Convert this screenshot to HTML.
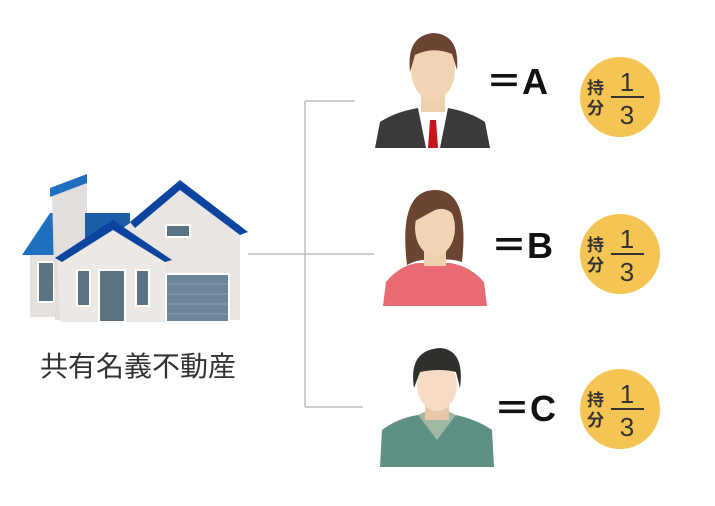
<!DOCTYPE html>
<html><head><meta charset="utf-8"><style>
html,body{margin:0;padding:0;background:#fff;}
svg{display:block;}
</style></head><body>
<svg width="715" height="506" viewBox="0 0 715 506" xmlns="http://www.w3.org/2000/svg">
<g stroke="#bdbdbd" stroke-width="1.5" fill="none">
<line x1="305" y1="101" x2="355" y2="101"/>
<line x1="305" y1="101" x2="305" y2="407"/>
<line x1="248" y1="254" x2="374" y2="254"/>
<line x1="305" y1="407" x2="363" y2="407"/>
</g>
<g>
<polygon points="22,255 50,213 110,213 110,255" fill="#1f6fc0"/>
<rect x="30" y="255" width="30" height="62" fill="#e4e1df"/>
<rect x="38" y="262" width="16" height="40" fill="#5b7383" stroke="#fff" stroke-width="2"/>
<polygon points="52,190 87,177 87,320 55,320" fill="#e1dedc"/>
<polygon points="50,188 87,174 87,183 50,197" fill="#1f6fc0"/>
<polygon points="85,213 130,213 130,250 85,250" fill="#1a5fa8"/>
<polygon points="180,188 240,232 240,320 120,320 120,230" fill="#e8e5e3"/>
<polygon points="130,222 180,180 248,232 240,235 180,190 135,228" fill="#0d44a0"/>
<rect x="166" y="225" width="24" height="12" fill="#5b7383" stroke="#fff" stroke-width="2"/>
<polygon points="57,258 113,222 166,260 166,322 60,322" fill="#ebe8e6"/>
<polygon points="55,258 113,220 172,260 165,262 113,230 62,262" fill="#0d44a0"/>
<rect x="77" y="270" width="13" height="36" fill="#5b7383" stroke="#fff" stroke-width="2"/>
<rect x="99" y="270" width="26" height="52" fill="#5b7383" stroke="#fff" stroke-width="2"/>
<rect x="136" y="270" width="13" height="36" fill="#5b7383" stroke="#fff" stroke-width="2"/>
<rect x="166" y="274" width="63" height="48" fill="#6c8597" stroke="#fff" stroke-width="2"/>
<g stroke="#8aa0ae" stroke-width="1"><line x1="167" y1="284" x2="228" y2="284"/><line x1="167" y1="294" x2="228" y2="294"/><line x1="167" y1="304" x2="228" y2="304"/><line x1="167" y1="314" x2="228" y2="314"/></g>
</g>
<text x="138" y="376" text-anchor="middle" font-family="'Liberation Sans','Noto Sans CJK JP',sans-serif" font-size="28" fill="#333">共有名義不動産</text>
<g>
<path d="M375,148 L380,122 Q395,112 418,108 L448,108 Q470,112 485,122 L490,148 Z" fill="#3a3a3a"/>
<polygon points="418,108 448,108 440,148 426,148" fill="#fff"/>
<polygon points="430,120 436,120 438,148 428,148" fill="#c4161c"/>
<rect x="421" y="90" width="24" height="22" fill="#efcfae"/>
<ellipse cx="433" cy="70" rx="22" ry="30" fill="#f2d4b4"/>
<path d="M410,72 Q406,36 433,33 Q460,34 457,70 L452,54 Q433,46 415,55 Z" fill="#6b4432"/>
</g>
<g>
<path d="M383,306 L386,282 Q400,265 418,263 L450,263 Q470,266 484,282 L487,306 Z" fill="#e86b74"/>
<path d="M407,265 Q398,190 435,190 Q470,190 462,262 Q450,258 435,260 Q420,258 407,265 Z" fill="#6b4432"/>
<rect x="424" y="240" width="22" height="26" fill="#efcfae"/>
<ellipse cx="435" cy="228" rx="20" ry="28" fill="#f2d4b4"/>
<path d="M413,222 Q418,200 440,198 Q455,205 458,222 Q450,205 435,210 Z" fill="#6b4432"/>
</g>
<g>
<path d="M380,467 L382,430 Q398,418 418,415 L456,415 Q478,420 492,430 L494,467 Z" fill="#5e9183"/>
<polygon points="418,415 437,440 456,415 450,412 424,412" fill="#9eb8a3"/>
<rect x="425" y="400" width="24" height="20" fill="#e8c6a8"/>
<ellipse cx="437" cy="385" rx="20" ry="26" fill="#f6dcc6"/>
<path d="M414,388 Q408,350 440,348 Q465,350 460,388 L456,372 Q440,368 420,372 Z" fill="#2e302b"/>
</g>
<g font-family="'Liberation Sans','Noto Sans CJK JP',sans-serif" font-weight="bold" font-size="36" fill="#111">
<text x="486" y="94">＝A</text>
<text x="491" y="258">＝B</text>
<text x="494" y="421">＝C</text>
</g>
<g font-family="'Liberation Sans','Noto Sans CJK JP',sans-serif" fill="#333">
<circle cx="620" cy="97" r="40" fill="#f4c552"/>
<text x="587" y="94" font-size="17" font-weight="bold">持</text>
<text x="587" y="114" font-size="17" font-weight="bold">分</text>
<text x="627" y="91" font-size="26" text-anchor="middle">1</text>
<line x1="611" y1="97" x2="644" y2="97" stroke="#333" stroke-width="2"/>
<text x="627" y="124" font-size="26" text-anchor="middle">3</text>
<circle cx="620" cy="254" r="40" fill="#f4c552"/>
<text x="587" y="251" font-size="17" font-weight="bold">持</text>
<text x="587" y="271" font-size="17" font-weight="bold">分</text>
<text x="627" y="248" font-size="26" text-anchor="middle">1</text>
<line x1="611" y1="254" x2="644" y2="254" stroke="#333" stroke-width="2"/>
<text x="627" y="281" font-size="26" text-anchor="middle">3</text>
<circle cx="620" cy="409" r="40" fill="#f4c552"/>
<text x="587" y="406" font-size="17" font-weight="bold">持</text>
<text x="587" y="426" font-size="17" font-weight="bold">分</text>
<text x="627" y="403" font-size="26" text-anchor="middle">1</text>
<line x1="611" y1="409" x2="644" y2="409" stroke="#333" stroke-width="2"/>
<text x="627" y="436" font-size="26" text-anchor="middle">3</text>
</g>
</svg>
</body></html>
